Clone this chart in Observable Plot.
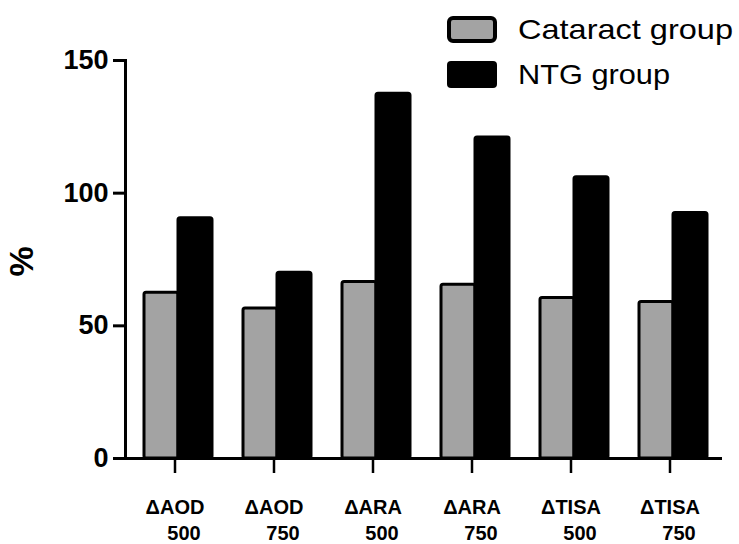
<!DOCTYPE html>
<html><head><meta charset="utf-8">
<script src="https://cdn.jsdelivr.net/npm/d3@7"></script>
<script src="https://cdn.jsdelivr.net/npm/@observablehq/plot@0.6"></script>
<style>
html,body{margin:0;padding:0;background:#fff;}
#wrap{position:relative;width:739px;height:544px;overflow:hidden;}
#wrap svg{display:block;}
#legend{position:absolute;left:0;top:0;}
</style></head><body><div id="wrap"></div>
<script>
const categories = ["ΔAOD 500","ΔAOD 750","ΔARA 500","ΔARA 750","ΔTISA 500","ΔTISA 750"];
const labelTop = ["ΔAOD","ΔAOD","ΔARA","ΔARA","ΔTISA","ΔTISA"];
const labelBottom = ["500","750","500","750","500","750"];
const groups = ["Cataract group","NTG group"];
const cataract = [62.5,56.5,66.5,65.5,60.5,59];
const ntg = [90.5,70,137.5,121,106,92.5];
const yTicks = [0,50,100,150];
const yLabel = "%";
const colors = ["#a3a3a3","#000000"];

const data = [];
categories.forEach((c,i)=>{
  data.push({category:c, group:groups[0], value:cataract[i]});
  data.push({category:c, group:groups[1], value:ntg[i]});
});
const idx = d => categories.indexOf(d);

const chart = Plot.plot({
  width:739, height:544, marginTop:60, marginBottom:86, marginLeft:142, marginRight:31,
  style:{fontFamily:"'Liberation Sans', Arial, sans-serif", background:"#fff", color:"#000"},
  fx:{domain:categories, paddingInner:0.304, paddingOuter:0, axis:null, label:null},
  x:{domain:groups, padding:0, axis:null},
  y:{domain:[0,150], axis:null},
  color:{domain:groups, range:colors},
  marks:[
    Plot.barY(data,{fx:"category", x:"group", y:"value", fill:"group", stroke:"#000", strokeWidth:3, rx:2}),
    Plot.ruleY([0],{strokeWidth:3, insetLeft:-18, insetRight:-15}),
    Plot.frame({anchor:"left", facetAnchor:"left", dx:-18, strokeWidth:3}),
    Plot.axisY({ticks:yTicks, tickSize:12, tickPadding:5, dx:-18, strokeWidth:3, fontSize:27, fontWeight:"bold", label:null}),
    Plot.axisFx({anchor:"bottom", tickSize:15, tickPadding:26, dx:-3, strokeWidth:2.5, fontSize:20, fontWeight:"bold", tickFormat:d=>labelTop[idx(d)], label:null}),
    Plot.axisFx({anchor:"bottom", tickSize:0, tickPadding:67, dx:6, fontSize:20, fontWeight:"bold", tickFormat:d=>labelBottom[idx(d)], label:null}),
    Plot.text([yLabel],{fx:()=>categories[0], frameAnchor:"left", rotate:-90, dx:-121, dy:17, fontSize:34, fontWeight:"bold"})
  ]
});
const wrap = document.getElementById("wrap");
wrap.appendChild(chart);

// legend overlay
const ns = "http://www.w3.org/2000/svg";
const leg = document.createElementNS(ns,"svg");
leg.setAttribute("id","legend");
leg.setAttribute("width","739"); leg.setAttribute("height","100");
const sw = [{x:449,y:18,w:46,h:23,sw:4},{x:447,y:61,w:50,h:27,sw:0}];
const tx = [{y:39,len:215},{y:84,len:152}];
groups.forEach((g,i)=>{
  const r = document.createElementNS(ns,"rect");
  r.setAttribute("x",sw[i].x); r.setAttribute("y",sw[i].y);
  r.setAttribute("width",sw[i].w); r.setAttribute("height",sw[i].h);
  r.setAttribute("rx",4); r.setAttribute("fill",colors[i]);
  if (sw[i].sw) { r.setAttribute("stroke","#000"); r.setAttribute("stroke-width",sw[i].sw); }
  leg.appendChild(r);
  const t = document.createElementNS(ns,"text");
  t.setAttribute("x",518); t.setAttribute("y",tx[i].y);
  t.setAttribute("font-family","'Liberation Sans', Arial, sans-serif");
  t.setAttribute("font-size","28");
  t.setAttribute("textLength",tx[i].len);
  t.setAttribute("lengthAdjust","spacingAndGlyphs");
  t.textContent = g;
  leg.appendChild(t);
});
wrap.appendChild(leg);
</script>
</body></html>
